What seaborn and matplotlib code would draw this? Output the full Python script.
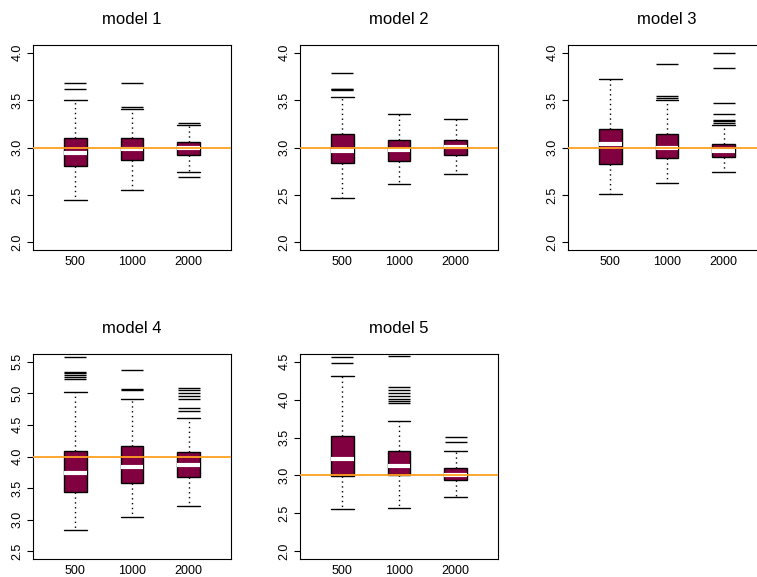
import numpy as np
import pandas as pd
import matplotlib
matplotlib.use("Agg")
import matplotlib.pyplot as plt
import seaborn as sns

sizes = ["500", "1000", "2000"]
models = ["model 1", "model 2", "model 3", "model 4", "model 5"]
true_values = [3.0, 3.0, 3.0, 4.0, 3.0]

# per sample size: lower whisker, Q1, median, Q3, upper whisker
model1_stats = [[2.45, 2.81, 2.94, 3.095, 3.50],
                [2.547, 2.867, 2.98, 3.095, 3.405],
                [2.744, 2.92, 2.99, 3.053, 3.235]]
model2_stats = [[2.47, 2.835, 2.961, 3.14, 3.533],
                [2.618, 2.863, 2.975, 3.084, 3.351],
                [2.723, 2.916, 3.005, 3.084, 3.302]]
model3_stats = [[2.512, 2.825, 3.032, 3.20, 3.723],
                [2.625, 2.891, 2.99, 3.14, 3.502],
                [2.744, 2.905, 2.965, 3.035, 3.235]]
model4_stats = [[2.841, 3.446, 3.735, 4.087, 5.022],
                [3.036, 3.582, 3.829, 4.165, 4.901],
                [3.22, 3.672, 3.866, 4.066, 4.602]]
model5_stats = [[2.557, 2.996, 3.215, 3.526, 4.311],
                [2.57, 3.009, 3.127, 3.32, 3.724],
                [2.719, 2.934, 3.0, 3.101, 3.325]]

model1_outliers = [[3.621, 3.684], [3.428, 3.684], [2.691, 3.263]]
model2_outliers = [[3.607, 3.614, 3.621, 3.789], [], []]
model3_outliers = [[], [3.526, 3.544, 3.877],
                   [3.253, 3.274, 3.288, 3.351, 3.467, 3.835, 4.0]]
model4_outliers = [[5.23, 5.264, 5.29, 5.316, 5.342, 5.574],
                   [5.048, 5.074, 5.374],
                   [4.722, 4.759, 4.901, 4.954, 5.001, 5.048, 5.09]]
model5_outliers = [[4.478, 4.566],
                   [3.952, 3.982, 4.009, 4.053, 4.092, 4.127, 4.162, 4.575],
                   [3.439, 3.504]]

all_stats = [model1_stats, model2_stats, model3_stats, model4_stats, model5_stats]
all_outliers = [model1_outliers, model2_outliers, model3_outliers,
                model4_outliers, model5_outliers]
y_ranges = [(2.0, 4.0), (2.0, 4.0), (2.0, 4.0), (2.5, 5.5), (2.0, 4.5)]

sns.set_style("white")
plt.rcParams["font.family"] = ["Liberation Sans", "DejaVu Sans"]
plt.rcParams["text.color"] = "black"
plt.rcParams["xtick.color"] = "black"
plt.rcParams["ytick.color"] = "black"
plt.rcParams["axes.labelcolor"] = "black"

BOX_COLOR = "#800040"
LINE_COLOR = "#FFA020"

W, H = 757, 577
fig = plt.figure(figsize=(W / 100, H / 100), dpi=100)

# panel positions in pixels: left, top, width, height
col_left = [33, 300, 568]
row_top = [45, 354]
pw, ph = 198, 205

for i, name in enumerate(models):
    left = col_left[i % 3]
    top = row_top[i // 3]
    ax = fig.add_axes([left / W, 1 - (top + ph) / H, pw / W, ph / H])

    rows = []
    for size, st in zip(sizes, all_stats[i]):
        for v in st:
            rows.append({"n": size, "value": v})
    df = pd.DataFrame(rows)

    sns.boxplot(data=df, x="n", y="value", order=sizes, ax=ax,
                whis=(0, 100), width=0.4, color=BOX_COLOR, saturation=1,
                linecolor="black", linewidth=1, fliersize=0,
                medianprops=dict(color="white", linewidth=3),
                whiskerprops=dict(linestyle=(0, (1, 2.5)), linewidth=1),
                capprops=dict(linewidth=1), capwidths=0.4)

    out_rows = []
    for size, outs in zip(sizes, all_outliers[i]):
        for v in outs:
            out_rows.append({"n": size, "value": v})
    if out_rows:
        odf = pd.DataFrame(out_rows)
        sns.stripplot(data=odf, x="n", y="value", order=sizes, ax=ax,
                      jitter=False, marker="_", size=15.8, linewidth=1,
                      color="black", edgecolor="black")

    ax.axhline(true_values[i], color=LINE_COLOR, linewidth=1.3, zorder=5)

    lo, hi = y_ranges[i]
    span = hi - lo
    ax.set_ylim(lo - 0.04 * span, hi + 0.04 * span)
    ax.set_xlim(-0.75, 2.75)
    ticks = np.arange(lo, hi + 0.001, 0.5)
    ax.set_yticks(ticks)
    ax.set_yticklabels([f"{t:.1f}" for t in ticks], rotation=90, va="center")
    ax.tick_params(axis="y", length=4, width=0.8, pad=3, labelsize=9,
                   left=True, color="black")
    ax.tick_params(axis="x", length=0, pad=4.5, labelsize=9)
    ax.set_xlabel("")
    ax.set_ylabel("")
    for sp in ax.spines.values():
        sp.set_visible(True)
        sp.set_color("black")
        sp.set_linewidth(0.8)
    ax.set_title(name, fontsize=12, pad=15, color="black")

fig.savefig("out.png", dpi=100)
